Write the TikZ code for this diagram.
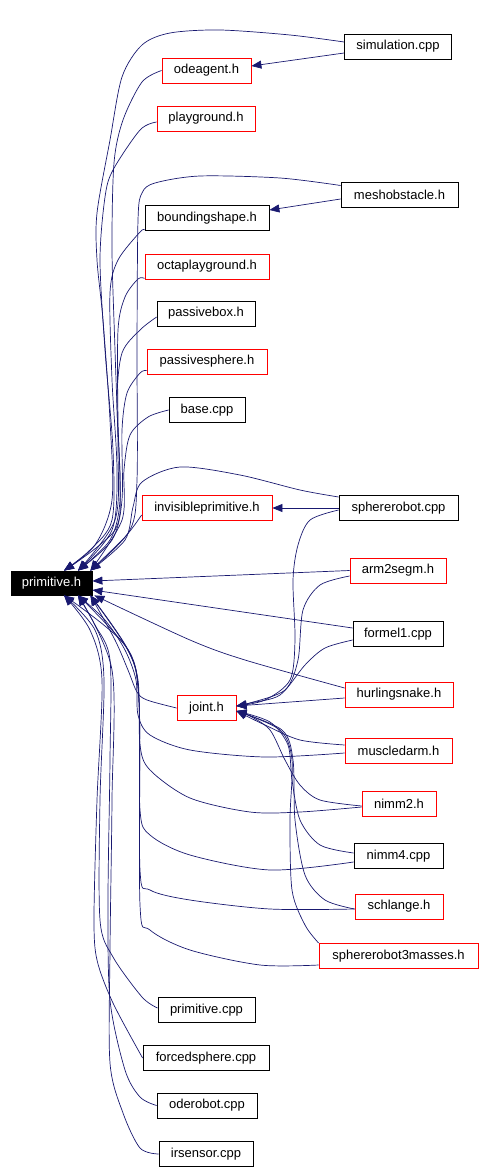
\documentclass[tikz,border=0pt]{standalone}
\usepackage{fontspec}
\setmainfont{Liberation Sans}
\usetikzlibrary{arrows.meta}
\definecolor{edgec}{RGB}{25,25,112}
\begin{document}
\begin{tikzpicture}[x=1pt,y=-1pt,
  box/.style={draw=black, line width=0.8pt, minimum height=25pt, inner sep=0pt,
    font=\fontsize{13}{15}\selectfont, anchor=center},
  rbox/.style={box, draw=red},
  edge/.style={draw=edgec, line width=0.7pt, -{Triangle[length=10pt,width=8pt]}}]
\useasboundingbox (0,0) rectangle (484,1172);

% nodes
\node[box, fill=black, text=white, minimum width=81pt, minimum height=24pt] (prim) at (51.5,583) {primitive.h};
\node[box, minimum width=107pt] (sim) at (398,46.5) {simulation.cpp};
\node[rbox, minimum width=89pt] (ode) at (206.5,70.5) {odeagent.h};
\node[rbox, minimum width=98pt] (play) at (206,118.5) {playground.h};
\node[box, minimum width=117pt] (mesh) at (399.5,194.5) {meshobstacle.h};
\node[box, minimum width=124pt] (bshape) at (207,218) {boundingshape.h};
\node[rbox, minimum width=124pt] (octa) at (207,266.5) {octaplayground.h};
\node[box, minimum width=98pt] (pbox) at (206,313.5) {passivebox.h};
\node[rbox, minimum width=120pt] (psph) at (207,361.5) {passivesphere.h};
\node[box, minimum width=76pt] (base) at (207,410) {base.cpp};
\node[rbox, minimum width=130pt] (invis) at (207,508) {invisibleprimitive.h};
\node[box, minimum width=119pt] (sphrob) at (398.5,508) {sphererobot.cpp};
\node[rbox, minimum width=96pt] (arm) at (398,570.5) {arm2segm.h};
\node[box, minimum width=90pt] (formel) at (398,634) {formel1.cpp};
\node[rbox, minimum width=108pt] (hurl) at (399,694.5) {hurlingsnake.h};
\node[rbox, minimum width=59pt] (joint) at (206.5,708) {joint.h};
\node[rbox, minimum width=107pt] (muscle) at (398.5,750.5) {muscledarm.h};
\node[rbox, minimum width=74pt] (nimmtwo) at (399,803.5) {nimm2.h};
\node[box, minimum width=89pt] (nimmfour) at (398.5,856) {nimm4.cpp};
\node[rbox, minimum width=88pt] (schl) at (399,906.5) {schlange.h};
\node[rbox, minimum width=159pt] (sthree) at (398.5,956) {sphererobot3masses.h};
\node[box, minimum width=97pt] (pcpp) at (206.5,1010) {primitive.cpp};
\node[box, minimum width=126pt] (forced) at (206,1058) {forcedsphere.cpp};
\node[box, minimum width=100pt] (oderob) at (207,1105.5) {oderobot.cpp};
\node[box, minimum width=94pt] (irs) at (206,1154) {irsensor.cpp};

% endpoints on primitive.h
\coordinate (pTL) at ([xshift=12.5pt]prim.north);
\coordinate (pTM) at ([xshift=26.5pt]prim.north);
\coordinate (pTR) at ([xshift=-2pt]prim.north east);
\coordinate (pBL) at ([xshift=12.5pt]prim.south);
\coordinate (pBM) at ([xshift=26.5pt]prim.south);
\coordinate (pBR) at ([xshift=-2pt]prim.south east);
\coordinate (jA) at ([yshift=2pt]joint.east);
\coordinate (jB) at ([yshift=-3pt]joint.east);

% edges to primitive.h from above
\draw[edge] plot[smooth] coordinates {([yshift=4.5pt]sim.west) (290,35) (220,30) (170,33) (142,45) (122,77) (110,140) (97,213) (97,260) (103,320) (110,420) (112,500) (95,545) (pTL)};
\draw[edge] plot[smooth] coordinates {(ode.west) (142,82) (123,120) (114,163) (112,250) (115,350) (118,450) (115,520) (pTM)};
\draw[edge] plot[smooth] coordinates {([yshift=-3.5pt]play.west) (140,130) (113,170) (105,197) (100,260) (105,350) (113,450) (112,520) (90,550) (pTL)};
\draw[edge] plot[smooth] coordinates {([yshift=9pt]mesh.west) (280,178) (200,176) (155,183) (142,193) (138,220) (137,350) (137,480) (130,530) (pTR)};
\draw[edge] plot[smooth] coordinates {([yshift=1pt]bshape.south west) (140,232) (118,260) (110,293) (112,380) (117,470) (112,530) (pTM)};
\draw[edge] plot[smooth] coordinates {([yshift=1pt]octa.south west) (138,279) (125,297) (118,330) (118,420) (120,500) (110,540) (pTM)};
\draw[edge] plot[smooth] coordinates {([yshift=-3.5pt]pbox.west) (140,330) (122,353) (117,400) (120,480) (115,530) (pTL)};
\draw[edge] plot[smooth] coordinates {([yshift=-9pt]psph.west) (140,373) (127,393) (122,430) (122,500) (112,540) (pTM)};
\draw[edge] plot[smooth] coordinates {(base.west) (148,417) (130,435) (124,470) (122,520) (pTR)};
\draw[edge] plot[smooth] coordinates {([yshift=11pt]sphrob.west) (300,490) (240,475) (180,467) (142,482) (133,507) (125,540) (pTR)};
\draw[edge] plot[smooth] coordinates {([yshift=-7pt]invis.west) (125,537) (pTR)};

% edges to primitive.h from the right
\draw[edge] (arm.west) -- ([yshift=2pt]prim.east);
\draw[edge] ([yshift=6pt]formel.west) -- ([yshift=-7pt]prim.east);
\draw[edge] plot[smooth] coordinates {([yshift=6.5pt]hurl.west) (245,660) (190,640) ([xshift=2pt]prim.south east)};

% edges to primitive.h from below
\draw[edge] plot[smooth] coordinates {(joint.west) (147,700) (137,692) (128,670) (115,640) (pBR)};
\draw[edge] plot[smooth] coordinates {([yshift=-2.5pt]muscle.west) (265,757) (190,750) (150,735) (138,715) (136,680) (125,650) (105,620) (pBM)};
\draw[edge] plot[smooth] coordinates {([yshift=-3.5pt]nimmtwo.west) (300,812) (250,812) (190,798) (150,770) (140,745) (138,680) (125,645) (pBR)};
\draw[edge] plot[smooth] coordinates {([yshift=-6pt]nimmfour.west) (270,870) (190,855) (150,835) (140,810) (139,700) (128,650) (pBM)};
\draw[edge] plot[smooth] coordinates {([yshift=-2.5pt]schl.west) (270,909) (190,900) (150,890) (140,870) (139,700) (125,645) (pTL |- pBL)};
\draw[edge] plot[smooth] coordinates {([yshift=-9pt]sthree.west) (260,965) (190,950) (150,930) (140,905) (139,700) (128,650) (pBR)};
\draw[edge] plot[smooth] coordinates {([yshift=2pt]pcpp.west) (142,997) (113,957) (100,920) (100,800) (104,680) (95,630) (pBL)};
\draw[edge] plot[smooth] coordinates {(forced.west) (113,1003) (97,960) (94,917) (97,800) (102,680) (90,630) (pBL)};
\draw[edge] plot[smooth] coordinates {(oderob.west) (140,1097) (125,1070) (110,1000) (108,900) (110,760) (110,660) (95,625) (pBM)};
\draw[edge] plot[smooth] coordinates {(irs.west) (140,1148) (123,1113) (110,1063) (110,950) (112,800) (112,670) (pBM)};

% edges to joint.h
\draw[edge] plot[smooth] coordinates {([yshift=-2pt]sphrob.west) (310,520) (298,545) (293,580) (295,640) (290,680) (265,700) (jA)};
\draw[edge] plot[smooth] coordinates {([yshift=-5.5pt]arm.west) (320,585) (303,610) (298,660) (285,690) (250,703) (jA)};
\draw[edge] plot[smooth] coordinates {([yshift=-6pt]formel.west) (325,648) (305,665) (280,695) (250,703) (jA)};
\draw[edge] ([yshift=-3.5pt]hurl.west) -- (jA);
\draw[edge] plot[smooth] coordinates {([yshift=5.5pt]muscle.west) (300,740) (265,725) (jB)};
\draw[edge] plot[smooth] coordinates {([yshift=-2.5pt]nimmtwo.west) (320,800) (300,785) (285,760) (270,730) (250,716) (jB)};
\draw[edge] plot[smooth] coordinates {([yshift=3pt]nimmfour.west) (320,845) (300,820) (292,780) (288,745) (270,722) (jB)};
\draw[edge] plot[smooth] coordinates {([yshift=-2.5pt]schl.west) (325,900) (305,875) (295,820) (293,760) (282,730) (jB)};
\draw[edge] plot[smooth] coordinates {([yshift=13pt]sthree.west) (305,925) (292,890) (290,820) (292,760) (280,730) (jB)};

% other edges
\draw[edge] ([yshift=-6.5pt]sim.west) -- ([yshift=4.5pt]ode.east);
\draw[edge] ([yshift=-4.5pt]mesh.west) -- ([yshift=8pt]bshape.east);
\draw[edge] (sphrob.west) -- (invis.east);
\end{tikzpicture}
\end{document}
